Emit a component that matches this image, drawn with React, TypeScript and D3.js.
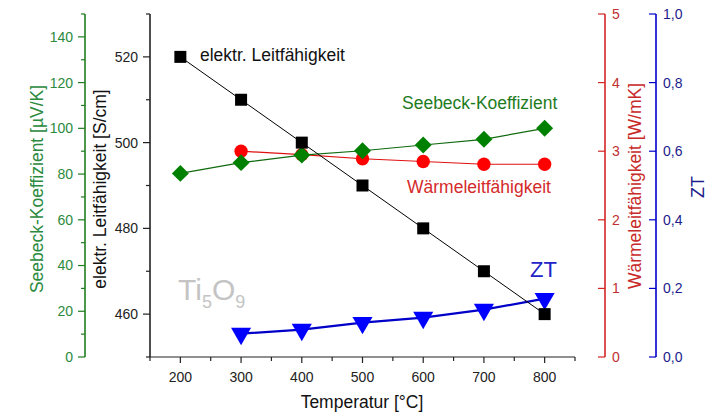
import * as d3 from 'd3'

// Ti5O9 thermoelectric data
const temps = [200, 300, 400, 500, 600, 700, 800]
const conductivity = [520, 510, 500, 490, 480, 470, 460] // S/cm
const seebeck = [80.3, 85, 88.3, 90.2, 92.7, 95.2, 100] // µV/K
const thermTemps = [300, 400, 500, 600, 700, 800]
const thermal = [3.0, 2.95, 2.89, 2.85, 2.81, 2.81] // W/mK
const ztValues = [0.068, 0.08, 0.1, 0.115, 0.138, 0.17]

const xMajor = [200, 300, 400, 500, 600, 700, 800]
const condMajor = [460, 480, 500, 520]
const seebeckMajor = [0, 20, 40, 60, 80, 100, 120, 140]
const thermMajor = [0, 1, 2, 3, 4, 5]
const ztMajor = [0, 0.2, 0.4, 0.6, 0.8, 1.0]

const W = 726
const H = 414
const top = 14
const bottom = 357
const font = "'Liberation Sans', Arial, sans-serif"

const GREEN = '#1f7d1f'
const GREEN_TXT = '#2b8a3e'
const RED = '#d42525'
const BLUE = '#0000cc'
const NAVY = '#1c1c8c'

type Tick = { v: number; minor?: boolean }

function VAxis({ x, scale, ticks, minor = [], color, labelColor, side, fmt }: {
  x: number; scale: d3.ScaleLinear<number, number>; ticks: number[]; minor?: number[]
  color: string; labelColor: string; side: 'left' | 'right'; fmt: (v: number) => string
}) {
  const [d0, d1] = scale.domain()
  const all: Tick[] = [...ticks.map(v => ({ v })), ...minor.map(v => ({ v, minor: true }))]
  return (
    <g>
      <line x1={x} x2={x} y1={scale(d0)} y2={scale(d1)} stroke={color} strokeWidth={1.6} />
      {all.map(t => (
        <line key={(t.minor ? 'm' : 'M') + t.v} x1={x - (t.minor ? 4 : 7)} x2={x} y1={scale(t.v)} y2={scale(t.v)} stroke={color} strokeWidth={1.2} />
      ))}
      {ticks.map(v => (
        <text key={'l' + v} x={side === 'left' ? x - 12 : x + 7} y={scale(v)} dy="0.35em"
          textAnchor={side === 'left' ? 'end' : 'start'} fill={labelColor} fontSize={14}>{fmt(v)}</text>
      ))}
    </g>
  )
}

export default function App() {
  const x = d3.scaleLinear().domain([150, 850]).range([150, 575])
  const yC = d3.scaleLinear().domain([450, 530]).range([bottom, top])
  const yS = d3.scaleLinear().domain([0, 150]).range([bottom, top])
  const yK = d3.scaleLinear().domain([0, 5]).range([bottom, top])
  const yZ = d3.scaleLinear().domain([0, 1]).range([bottom, top])

  const condPts = temps.map((t, i) => [x(t), yC(conductivity[i])] as [number, number])
  const seebPts = temps.map((t, i) => [x(t), yS(seebeck[i])] as [number, number])
  const thermPts = thermTemps.map((t, i) => [x(t), yK(thermal[i])] as [number, number])
  const ztPts = thermTemps.map((t, i) => [x(t), yZ(ztValues[i])] as [number, number])

  const line = d3.line()
  const square = d3.symbol(d3.symbolSquare, 144)()
  const circle = d3.symbol(d3.symbolCircle, 140)()
  const tri = d3.symbol(d3.symbolTriangle, 175)()

  const xMinor = d3.range(150, 851, 100)
  const condMinor = d3.range(450, 531, 20)
  const seebMinor = d3.range(10, 151, 20)

  return (
    <svg width={W} height={H} style={{ position: 'absolute', left: 0, top: 0, background: '#fff' }} fontFamily={font}>
      <rect width={W} height={H} fill="#fff" />

      {/* Seebeck axis */}
      <VAxis x={85} scale={yS} ticks={seebeckMajor} minor={seebMinor} color={GREEN} labelColor={GREEN_TXT} side="left" fmt={v => String(v)} />
      <text transform="translate(43,189) rotate(-90)" textAnchor="middle" fill={GREEN_TXT} fontSize={17.5}>Seebeck-Koeffizient [µV/K]</text>

      {/* conductivity axis */}
      <VAxis x={150} scale={yC} ticks={condMajor} minor={condMinor} color="#222" labelColor="#222" side="left" fmt={v => String(v)} />
      <text transform="translate(106,189) rotate(-90)" textAnchor="middle" fill="#111" fontSize={17.5}>elektr. Leitfähigkeit [S/cm]</text>

      {/* x axis */}
      <line x1={x(150)} x2={x(850)} y1={bottom} y2={bottom} stroke="#222" strokeWidth={1.2} />
      {xMajor.map(v => (
        <g key={v}>
          <line x1={x(v)} x2={x(v)} y1={bottom} y2={bottom + 6} stroke="#222" strokeWidth={1.2} />
          <text x={x(v)} y={382} textAnchor="middle" fill="#222" fontSize={14}>{v}</text>
        </g>
      ))}
      {xMinor.map(v => (
        <line key={'m' + v} x1={x(v)} x2={x(v)} y1={bottom} y2={bottom + 4} stroke="#222" strokeWidth={1.2} />
      ))}
      <text x={362} y={408} textAnchor="middle" fill="#111" fontSize={17.5}>Temperatur [°C]</text>

      {/* thermal conductivity axis */}
      <VAxis x={605} scale={yK} ticks={thermMajor} color={RED} labelColor="#c03030" side="right" fmt={v => String(v)} />
      <text transform="translate(641,186) rotate(-90)" textAnchor="middle" fill="#c82a2a" fontSize={17.5}>Wärmeleitfähigkeit [W/mK]</text>

      {/* ZT axis */}
      <VAxis x={656} scale={yZ} ticks={ztMajor} color={BLUE} labelColor={NAVY} side="right" fmt={v => v.toFixed(1).replace('.', ',')} />
      <text transform="translate(704,187) rotate(-90)" textAnchor="middle" fill={NAVY} fontSize={18}>ZT</text>

      {/* series */}
      <path d={line(thermPts) ?? ''} fill="none" stroke="#e01010" strokeWidth={1.2} />
      <path d={line(seebPts) ?? ''} fill="none" stroke="#0f6a0f" strokeWidth={1.2} />
      <path d={line(ztPts) ?? ''} fill="none" stroke="#0000c8" strokeWidth={2.2} />
      {thermPts.map(([px, py], i) => (
        <path key={'k' + i} d={circle ?? ''} transform={`translate(${px},${py})`} fill="#ff0000" />
      ))}
      {seebPts.map(([px, py], i) => (
        <path key={'s' + i} d={square ?? ''} transform={`translate(${px},${py}) rotate(45)`} fill="#008000" />
      ))}
      {ztPts.map(([px, py], i) => (
        <path key={'z' + i} d={tri ?? ''} transform={`translate(${px},${py}) rotate(180)`} fill="#0000ff" />
      ))}
      <path d={line(condPts) ?? ''} fill="none" stroke="#000" strokeWidth={1} />
      {condPts.map(([px, py], i) => (
        <path key={'c' + i} d={square ?? ''} transform={`translate(${px},${py})`} fill="#000" />
      ))}

      {/* labels */}
      <text x={200} y={61} fill="#111" fontSize={17.5}>elektr. Leitfähigkeit</text>
      <text x={402} y={109} fill="#1e7b1e" fontSize={17.5}>Seebeck-Koeffizient</text>
      <text x={407} y={193} fill="#d42a2a" fontSize={17.5}>Wärmeleitfähigkeit</text>
      <text x={530} y={277} fill="#2323c8" fontSize={22}>ZT</text>
      <text x={178} y={300} fill="#c4c4c4" fontSize={30}>
        Ti<tspan fontSize={18} dy={8}>5</tspan><tspan dy={-8}>O</tspan><tspan fontSize={18} dy={8}>9</tspan>
      </text>
    </svg>
  )
}
